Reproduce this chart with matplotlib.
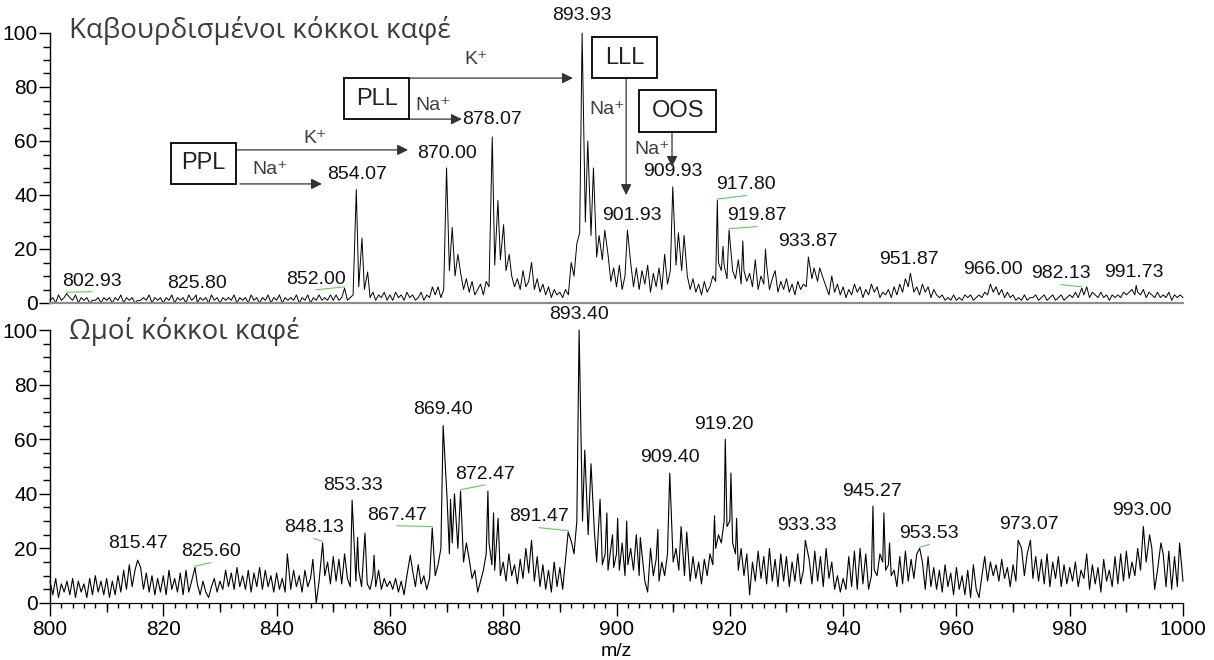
import numpy as np
import matplotlib
matplotlib.use("Agg")
import matplotlib.pyplot as plt
from matplotlib.patches import Rectangle
from matplotlib.ticker import MultipleLocator, NullFormatter

# ---------------------------------------------------------------------------
# Spectra: baseline trace sampled every 0.5 m/z from 800 to 1000, plus the
# resolved peaks (m/z, relative intensity %) that sit on top of it.
# ---------------------------------------------------------------------------
MZ_START, MZ_STEP = 800.0, 0.5

roasted_noise = [
    1, 2, 0, 3, 1, 2, 0, 2, 1, 3, 0, 2, 1, 2, 0, 1, 1, 2, 0, 2,        # 800
    1, 2, 0, 2, 1, 3, 0, 2, 1, 2, 0, 1, 1, 2, 1, 3, 0, 2, 1, 2,        # 810
    0, 2, 1, 3, 0, 2, 1, 2, 0, 3, 1, 2, 0, 2, 1, 2, 0, 3, 1, 2,        # 820
    0, 2, 1, 2, 1, 3, 0, 2, 1, 2, 0, 3, 1, 2, 0, 2, 1, 3, 0, 2,        # 830
    1, 3, 0, 2, 1, 2, 1, 3, 0, 2, 1, 3, 0, 2, 1, 3, 1, 2, 1, 3,        # 840
    1, 3, 1, 2, 5, 1, 2, 3, 4, 6, 5, 5, 3, 2, 4, 1, 3, 2, 4, 1,        # 850
    3, 1, 4, 2, 3, 1, 4, 2, 3, 1, 2, 4, 1, 3, 2, 6, 3, 6, 2, 5,        # 860
    10, 12, 8, 10, 6, 11, 5, 9, 4, 8, 3, 5, 7, 3, 8, 6, 10, 14, 8, 16,  # 870
    9, 12, 7, 10, 6, 9, 5, 12, 6, 8, 15, 5, 9, 4, 7, 3, 6, 2, 5, 3,    # 880
    4, 2, 5, 3, 15, 10, 22, 26, 18, 30, 20, 25, 14, 17, 12, 16, 10, 18, 8, 13,  # 890
    6, 14, 5, 10, 8, 15, 6, 13, 5, 12, 7, 14, 4, 11, 6, 13, 5, 18, 7, 12,  # 900
    10, 14, 8, 12, 9, 10, 5, 9, 4, 7, 3, 8, 4, 6, 10, 8, 15, 12, 14, 9,   # 910
    8, 12, 9, 16, 7, 12, 8, 11, 6, 16, 5, 10, 7, 14, 5, 9, 12, 4, 8, 5,   # 920
    9, 4, 7, 3, 8, 5, 7, 6, 4, 9, 5, 8, 4, 9, 6, 3, 10, 4, 7, 3,        # 930
    6, 2, 5, 3, 7, 4, 6, 2, 5, 3, 7, 4, 6, 2, 4, 3, 5, 2, 6, 3,        # 940
    7, 4, 9, 6, 8, 4, 6, 3, 7, 4, 6, 2, 5, 3, 2, 3, 1, 2, 1, 3,        # 950
    1, 2, 1, 3, 2, 3, 1, 2, 3, 2, 4, 3, 7, 4, 6, 3, 5, 2, 4, 2,        # 960
    3, 1, 2, 1, 3, 1, 2, 2, 3, 1, 2, 3, 1, 2, 3, 1, 2, 3, 1, 2,        # 970
    3, 2, 4, 2, 5, 3, 6, 2, 4, 3, 2, 4, 2, 3, 1, 3, 2, 3, 2, 4,        # 980
    3, 4, 5, 3, 4, 3, 5, 2, 4, 3, 2, 4, 2, 3, 2, 4, 1, 3, 2, 3,        # 990
    2,                                                                 # 1000
]

roasted_peak_mz = [802.93, 825.80, 852.00, 854.07, 855.07, 856.07,
                   870.00, 871.00, 872.00, 878.07, 879.07, 880.07, 881.07,
                   893.93, 894.93, 895.93, 896.93, 897.93, 901.93,
                   909.93, 910.93, 911.93, 917.80, 918.80, 919.87, 922.30,
                   926.30, 933.87, 934.87, 935.87, 951.87, 966.00, 982.13,
                   991.73]
roasted_peak_int = [3.5, 3.0, 5.5, 42.0, 24.0, 11.5,
                    50.0, 28.0, 18.0, 61.5, 38.0, 29.0, 18.0,
                    100.0, 60.0, 50.0, 25.0, 27.0, 27.0,
                    43.0, 26.0, 25.0, 38.0, 21.0, 27.0, 23.0,
                    20.0, 17.0, 13.0, 13.0, 11.0, 7.0, 5.5,
                    6.5]
roasted_labels = [802.93, 825.80, 852.00, 854.07, 870.00, 878.07, 893.93,
                  901.93, 909.93, 917.80, 919.87, 933.87, 951.87, 966.00,
                  982.13, 991.73]

raw_noise = [
    8, 3, 9, 2, 7, 4, 8, 3, 9, 2, 8, 4, 7, 2, 9, 3, 10, 4, 8, 3,        # 800
    9, 2, 8, 3, 10, 4, 12, 5, 14, 6, 12, 3, 13, 5, 11, 4, 10, 3, 9, 4,  # 810
    10, 3, 12, 5, 9, 4, 11, 3, 12, 4, 8, 5, 7, 3, 8, 4, 2, 6, 9, 4,     # 820
    8, 5, 12, 6, 11, 5, 13, 6, 10, 5, 12, 4, 11, 6, 13, 5, 12, 6, 10, 4,  # 830
    11, 5, 9, 4, 8, 5, 12, 6, 10, 4, 12, 6, 9, 3, 0, 8, 14, 10, 15, 7,  # 840
    17, 8, 16, 7, 18, 9, 6, 10, 8, 12, 6, 9, 7, 5, 10, 6, 12, 5, 9, 6,  # 850
    8, 5, 9, 4, 8, 3, 10, 5, 12, 6, 14, 7, 10, 5, 9, 8, 10, 14, 20, 25,  # 860
    20, 18, 22, 15, 20, 12, 15, 10, 16, 9, 12, 4, 8, 12, 18, 22, 14, 12, 15, 10,  # 870
    15, 8, 18, 10, 14, 7, 16, 9, 20, 11, 15, 8, 17, 6, 14, 5, 12, 4, 15, 6,  # 880
    13, 5, 16, 10, 14, 18, 30, 55, 30, 40, 25, 30, 20, 15, 22, 14, 18, 12, 20, 13,  # 890
    18, 12, 22, 10, 14, 20, 12, 25, 10, 18, 8, 4, 20, 10, 16, 8, 15, 10, 18, 25,  # 900
    15, 20, 12, 18, 10, 14, 8, 17, 9, 15, 7, 16, 10, 18, 14, 20, 25, 22, 30, 28,  # 910
    30, 22, 18, 12, 20, 10, 18, 3, 15, 8, 19, 9, 17, 7, 20, 8, 16, 6, 18, 8,  # 920
    17, 6, 15, 8, 18, 7, 12, 9, 16, 7, 19, 8, 17, 6, 20, 9, 15, 5, 10, 4,  # 930
    9, 5, 17, 6, 19, 5, 20, 7, 18, 5, 10, 12, 10, 18, 15, 12, 14, 10, 12, 6,  # 940
    17, 7, 19, 8, 16, 9, 18, 10, 15, 5, 17, 6, 13, 5, 12, 4, 14, 6, 11, 3,  # 950
    13, 5, 10, 3, 12, 2, 14, 5, 2, 10, 17, 8, 15, 10, 14, 8, 16, 9, 13, 6,  # 960
    14, 8, 16, 20, 10, 18, 15, 9, 17, 8, 16, 7, 18, 6, 15, 9, 17, 6, 14, 7,  # 970
    13, 8, 15, 6, 12, 9, 18, 5, 14, 7, 13, 4, 16, 8, 12, 6, 17, 7, 18, 8,  # 980
    19, 9, 15, 10, 20, 12, 18, 15, 10, 20, 5, 12, 8, 18, 6, 19, 5, 17, 6, 21,  # 990
    8,                                                                       # 1000
]

raw_peak_mz = [815.47, 825.60, 841.90, 846.40, 848.13, 853.33, 854.30,
               855.60, 857.20, 863.60, 867.47, 869.40, 870.10, 870.70,
               871.40, 872.47, 873.50, 877.30, 878.30, 879.10, 885.00,
               891.47, 892.10, 893.40, 894.40, 895.50, 896.10, 897.10,
               898.30, 899.30, 900.20, 901.80, 904.20, 907.30, 909.40,
               911.40, 912.40, 917.30, 919.20, 920.20, 921.20, 933.33,
               945.27, 947.20, 948.20, 953.53, 970.90, 973.07, 993.00,
               994.10, 996.10, 999.40]
raw_peak_int = [15.7, 13.0, 18.0, 16.0, 22.0, 37.7, 24.0,
                25.6, 17.5, 17.5, 27.5, 65.0, 38.0, 38.0,
                40.0, 41.0, 22.0, 41.0, 33.0, 31.0, 23.0,
                26.0, 22.0, 100.0, 56.0, 51.0, 26.0, 38.0,
                33.0, 25.0, 31.0, 30.0, 24.0, 27.0, 47.6,
                28.0, 26.0, 32.0, 60.0, 47.6, 31.0, 23.0,
                35.5, 33.0, 22.0, 20.0, 23.0, 23.0, 28.0,
                25.0, 22.0, 22.0]
raw_labels = [815.47, 825.60, 848.13, 853.33, 867.47, 869.40, 872.47,
              891.47, 893.40, 909.40, 919.20, 933.33, 945.27, 953.53,
              973.07, 993.00]

# Label anchor points (m/z, intensity of the text's lower edge)
roasted_label_pos = [(807.4, 5.0), (825.9, 3.9), (847.0, 5.7), (854.2, 44.3),
                     (870.1, 52.4), (878.0, 65.0), (893.9, 103.5),
                     (902.7, 29.4), (910.0, 45.7), (922.9, 40.6),
                     (924.8, 29.1), (933.8, 19.8), (951.6, 13.1),
                     (966.5, 9.4), (978.5, 7.6), (991.4, 8.3)]
raw_label_pos = [(815.5, 18.5), (828.4, 15.6), (846.6, 24.4), (853.5, 40.1),
                 (861.3, 29.1), (869.4, 67.9), (876.8, 44.1), (886.3, 28.4),
                 (893.4, 102.7), (909.4, 50.0), (919.0, 62.1), (933.6, 25.1),
                 (945.1, 37.9), (955.2, 22.2), (972.8, 25.8), (992.8, 30.6)]

NUM_FONT = ["Liberation Sans", "DejaVu Sans"]
TITLE_FONT = ["Open Sans", "DejaVu Sans"]
GREY_TEXT = "#3d3d3d"


def build_profile(noise, peak_mz, peak_int):
    grid = MZ_START + MZ_STEP * np.arange(len(noise))
    noise = np.asarray(noise, float)
    pm = np.asarray(peak_mz, float)
    pi = np.asarray(peak_int, float)
    keep = np.min(np.abs(grid[:, None] - pm[None, :]), axis=1) > 0.2
    x = np.concatenate([grid[keep], pm])
    y = np.concatenate([noise[keep], pi])
    order = np.argsort(x)
    return x[order], y[order]


def style_y(ax):
    ax.set_ylim(0, 100)
    ax.yaxis.set_major_locator(MultipleLocator(20))
    ax.yaxis.set_minor_locator(MultipleLocator(5))
    ax.tick_params(axis="y", which="major", length=8, width=1, pad=1,
                   labelsize=15, colors="black")
    ax.tick_params(axis="y", which="minor", length=5, width=1)
    for lab in ax.get_yticklabels():
        lab.set_family(NUM_FONT)
    ax.spines["top"].set_visible(False)
    ax.spines["right"].set_visible(False)
    ax.spines["left"].set_linewidth(1.0)


def draw_labels(ax, labels, positions, peak_mz, peak_int):
    for mz, (lx, ly) in zip(labels, positions):
        h = peak_int[peak_mz.index(mz)]
        ax.text(lx, ly, f"{mz:.2f}", ha="center", va="bottom", fontsize=14,
                family=NUM_FONT, color="#111111", clip_on=False)
        if abs(lx - mz) > 1.0:
            ax.plot([mz, lx], [h + 0.5, ly - 0.8], color="#5ccc5c", lw=0.8,
                    clip_on=False)


fig = plt.figure(figsize=(12.14, 6.6), dpi=100)
ax1 = fig.add_axes([50 / 1214, 1 - 303 / 660, 1133 / 1214, 270 / 660])
ax2 = fig.add_axes([50 / 1214, 1 - 603 / 660, 1133 / 1214, 273 / 660])

# ---- roasted beans ----
x1, y1 = build_profile(roasted_noise, roasted_peak_mz, roasted_peak_int)
ax1.plot(x1, y1, color="black", lw=0.7, clip_on=False)
ax1.set_xlim(800, 1000)
style_y(ax1)
ax1.set_xticks([])
ax1.spines["bottom"].set_color("#8c8c8c")
ax1.spines["bottom"].set_linewidth(1.6)
ax1.text(803.4, 101, "Καβουρδισμένοι κόκκοι καφέ", fontsize=20,
         family=TITLE_FONT, color=GREY_TEXT, va="center", ha="left")
draw_labels(ax1, roasted_labels, roasted_label_pos,
            roasted_peak_mz, roasted_peak_int)

# lipid boxes and adduct arrows
boxes = [("PPL", 821.4, 44.1, 832.8, 59.3),
         ("PLL", 851.9, 68.1, 863.4, 83.3),
         ("LLL", 895.7, 83.3, 907.2, 98.5),
         ("OOS", 904.0, 63.3, 917.6, 78.9)]
for name, xa, ya, xb, yb in boxes:
    ax1.add_patch(Rectangle((xa, ya), xb - xa, yb - ya, fill=False,
                            edgecolor="black", lw=1.3, clip_on=False,
                            zorder=4))
    ax1.text((xa + xb) / 2, (ya + yb) / 2, name, ha="center", va="center",
             fontsize=17, family=NUM_FONT, color="#222222", zorder=5)

arrows = [((832.8, 56.7), (863.2, 56.7)),
          ((833.5, 44.1), (848.0, 44.1)),
          ((863.4, 83.3), (892.3, 83.3)),
          ((863.4, 68.1), (872.7, 68.1)),
          ((901.7, 83.3), (901.7, 40.0)),
          ((909.8, 63.3), (909.8, 50.4))]
for start, end in arrows:
    ax1.annotate("", xy=end, xytext=start,
                 arrowprops=dict(arrowstyle="-|>", color="#333333", lw=0.9,
                                 mutation_scale=16, shrinkA=0, shrinkB=0),
                 annotation_clip=False)

ions = [("K⁺", 846.8, 61.1), ("Na⁺", 838.8, 49.3),
        ("K⁺", 875.2, 90.0), ("Na⁺", 867.6, 73.0),
        ("Na⁺", 898.3, 71.5), ("Na⁺", 906.3, 57.0)]
for txt, tx, ty in ions:
    ax1.text(tx, ty, txt, ha="center", va="center", fontsize=14,
             family=NUM_FONT, color=GREY_TEXT)

# ---- raw beans ----
x2, y2 = build_profile(raw_noise, raw_peak_mz, raw_peak_int)
ax2.plot(x2, y2, color="black", lw=0.8, clip_on=False)
ax2.set_xlim(800, 1000)
style_y(ax2)
ax2.xaxis.set_major_locator(MultipleLocator(20))
ax2.xaxis.set_minor_locator(MultipleLocator(2))
ax2.tick_params(axis="x", which="major", length=9, width=1, labelsize=15,
                pad=3)
ax2.tick_params(axis="x", which="minor", length=3.5, width=1)
for lab in ax2.get_xticklabels():
    lab.set_family(NUM_FONT)
sec = ax2.secondary_xaxis("bottom")
sec.set_xticks(np.arange(810, 1000, 20))
sec.tick_params(length=6.5, width=1, labelbottom=False)
sec.xaxis.set_minor_formatter(NullFormatter())
sec.set_xticklabels([])
ax2.set_xlabel("m/z", fontsize=14, family=NUM_FONT, labelpad=3)
ax2.text(803.4, 99.5, "Ωμοί κόκκοι καφέ", fontsize=20, family=TITLE_FONT,
         color=GREY_TEXT, va="center", ha="left")
draw_labels(ax2, raw_labels, raw_label_pos, raw_peak_mz, raw_peak_int)

fig.savefig("out.png", dpi=100)
